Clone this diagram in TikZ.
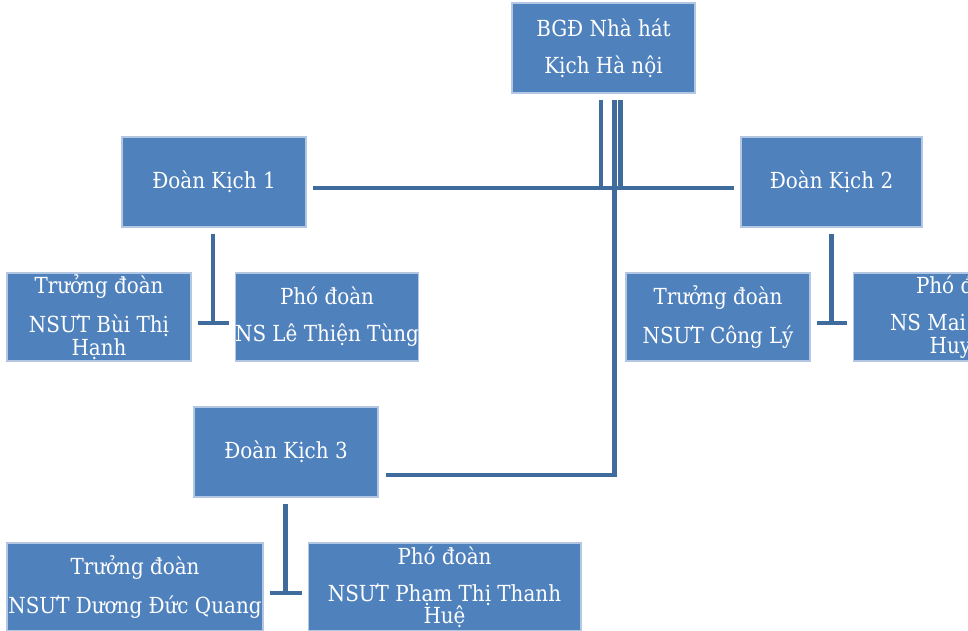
\documentclass[tikz,border=0pt]{standalone}
\usepackage{fontspec}
\setmainfont{DejaVu Serif Condensed}
\usepackage{xcolor}
\usetikzlibrary{calc}
\definecolor{boxblue}{HTML}{4F81BD}
\definecolor{boxedge}{HTML}{B4C7E2}
\definecolor{linkblue}{HTML}{3F6C9C}

\begin{document}
\begin{tikzpicture}[x=0.02cm, y=-0.02cm,
  unit/.style={draw=boxedge, line width=0.6pt, fill=boxblue, text=white,
    align=center, inner sep=0pt, minimum height=1.8cm,
    font=\fontsize{12.6}{12.6}\selectfont},
  member/.style={unit, minimum height=1.76cm},
  link/.style={draw=linkblue, line width=2.4pt}]
\useasboundingbox (0,0) rectangle (968,630);
\clip (0,0) rectangle (968,630);
\node[unit, minimum width=3.66cm] (bgd) at (603.5,48) {BGĐ Nhà hát\\[8.5pt]Kịch Hà nội};
\node[unit, minimum width=3.68cm] (dk1) at (214,182) {Đoàn Kịch 1};
\node[unit, minimum width=3.62cm] (dk2) at (831.5,182) {Đoàn Kịch 2};
\node[unit, minimum width=3.68cm] (dk3) at (286,452) {Đoàn Kịch 3};
\node[member, minimum width=3.68cm] (tr1) at (99,317) {Trưởng đoàn\\[8.5pt]NSƯT Bùi Thị\\Hạnh};
\node[member, minimum width=3.64cm] (ph1) at (327,317) {Phó đoàn\\[8.5pt]NS Lê Thiện Tùng};
\node[member, minimum width=3.68cm] (tr2) at (718,317) {Trưởng đoàn\\[8.5pt]NSƯT Công Lý};
\node[member, minimum width=4.4cm] (ph2) at (963,317) {Phó đoàn\\[8.5pt]NS Mai Thanh\\Huyền};
\node[member, minimum width=5.12cm] (tr3) at (135,587) {Trưởng đoàn\\[8.5pt]NSƯT Dương Đức Quang};
\node[member, minimum width=5.46cm] (ph3) at (444.5,587) {Phó đoàn\\[8.5pt]NSƯT Phạm Thị Thanh\\Huệ};

% board to troupes
\coordinate (bus) at ($(dk1.east)+(6,6)$);
\coordinate (b1) at ($(bgd.south)+(-2.5,6)$);
\coordinate (b2) at ($(bgd.south)+(11,6)$);
\coordinate (b3) at ($(bgd.south)+(17,6)$);
\coordinate (d3) at ($(dk3.east)+(7,23)$);
\draw[link] (bus) -- ($(dk2.west)+(-6,6)$);
\draw[link] (b1) -- (b1 |- bus);
\draw[link] (b3) -- (b3 |- bus);
\draw[link] (b2) |- (d3);

% troupe leaders
\coordinate (j1) at ($(tr1.east)!0.5!(ph1.west)+(0,6)$);
\coordinate (j2) at ($(tr2.east)!0.5!(ph2.west)+(0,6)$);
\coordinate (j3) at ($(tr3.east)!0.5!(ph3.west)+(0,6)$);
\draw[link] ($(j1 |- dk1.south)+(0,6)$) -- (j1);
\draw[link] ($(tr1.east)+(6,6)$) -- ($(ph1.west)+(-6,6)$);
\draw[link] ($(j2 |- dk2.south)+(0,6)$) -- (j2);
\draw[link] ($(tr2.east)+(6,6)$) -- ($(ph2.west)+(-6,6)$);
\draw[link] ($(j3 |- dk3.south)+(0,6)$) -- (j3);
\draw[link] ($(tr3.east)+(6,6)$) -- ($(ph3.west)+(-6,6)$);
\end{tikzpicture}
\end{document}
